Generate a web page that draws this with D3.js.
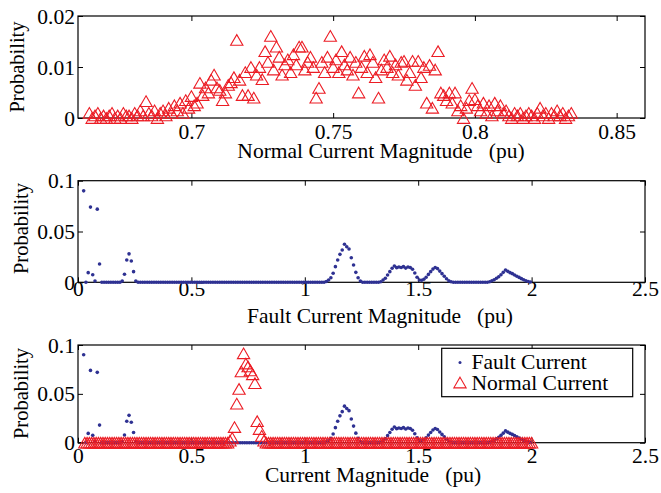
<!DOCTYPE html>
<html>
<head>
<meta charset="utf-8">
<script src="https://cdn.jsdelivr.net/npm/d3@7"></script>
<style>
  html, body { margin: 0; padding: 0; background: #fff; }
  svg { display: block; }
  text { font-family: "Liberation Serif", "Times New Roman", serif; }
</style>
</head>
<body>
<svg id="chart" width="661" height="493"></svg>
<script>
// ---- data ----
// Normal current histogram, fine bins (0.001 pu) starting at 0.664 pu
const normalFineStart = 0.664;
const normalFineStep = 0.001;
const normalFineProb = [
  0.0010, 0, 0.0005, 0.0010, 0, 0.0005, 0, 0.0005, 0.0010, 0,
  0.0005, 0, 0.0010, 0.0005, 0.0005, 0, 0.0010, 0.0005, 0.0015, 0.0005,
  0.0033, 0.0010, 0.0005, 0.0015, 0, 0.0010, 0.0015, 0.0005, 0.0020, 0.0010,
  0.0025, 0.0015, 0.0030, 0.0010, 0.0035, 0.0020, 0.0043, 0.0025, 0.0030, 0.0069,
  0.0045, 0.0060, 0.0050, 0.0075, 0.0085, 0.0060, 0.0055, 0.0035, 0.0050, 0.0065,
  0.0070, 0.0080, 0.0153, 0.0075, 0.0045, 0.0090, 0.0045, 0.0100, 0.0040, 0.0085,
  0.0100, 0.0076, 0.0131, 0.0110, 0.0161, 0.0095, 0.0140, 0.0120, 0.0085, 0.0105,
  0.0115, 0.0090, 0.0125, 0.0105, 0.0140, 0.0140, 0.0095, 0.0110, 0.0120, 0.0100,
  0.0040, 0.0059, 0.0110, 0.0090, 0.0120, 0.0161, 0.0100, 0.0115, 0.0090, 0.0131,
  0.0105, 0.0095, 0.0120, 0.0085, 0.0110, 0.0050, 0.0100, 0.0122, 0.0090, 0.0125,
  0.0110, 0.0080, 0.0040, 0.0095, 0.0115, 0.0100, 0.0122, 0.0090, 0.0105, 0.0085,
  0.0110, 0.0112, 0.0075, 0.0090, 0.0112, 0.0065, 0.0112, 0.0080, 0.0100, 0.0030,
  0.0104, 0.0020, 0.0095, 0.0131, 0.0050, 0.0045,
  0.0035, 0.0050, 0.0030, 0.0050, 0.0015, 0.0025, 0, 0.0020, 0.0035, 0.0059,
  0.0037, 0.0025, 0.0015, 0.0030, 0.0010, 0.0025, 0.0005, 0.0030, 0.0015, 0.0025,
  0.0010, 0.0015, 0.0005, 0, 0.0010, 0.0005, 0.0010, 0, 0.0005, 0.0010,
  0.0005, 0, 0.0010, 0.0020, 0.0005, 0.0010, 0, 0.0010, 0.0005, 0.0015,
  0.0005, 0.0010, 0, 0.0005, 0.0010
];

// Coarse bins (0.01 pu) used for the fault current and the combined plot
const coarseStep = 0.01;
const faultStart = 0.025;
const faultProb = [
  0.0900, 0, 0.0095, 0.0740, 0.0075, 0.0013, 0.0720, 0.0180, 0, 0,
  0, 0, 0, 0, 0, 0, 0, 0.0013, 0.0079, 0.0220,
  0.0280, 0.0210, 0.0105, 0.0013, 0, 0, 0, 0, 0, 0,
  0, 0, 0, 0, 0, 0, 0, 0, 0, 0,
  0, 0, 0, 0, 0, 0, 0, 0, 0, 0,
  0, 0, 0, 0, 0, 0, 0, 0, 0, 0,
  0, 0, 0, 0, 0, 0, 0, 0, 0, 0,
  0, 0, 0, 0, 0, 0, 0, 0, 0, 0,
  0, 0, 0, 0, 0, 0, 0, 0, 0, 0,
  0, 0, 0, 0, 0, 0, 0, 0, 0, 0,
  0, 0, 0, 0, 0, 0, 0, 0.0008, 0.0023, 0.0045,
  0.0089, 0.0154, 0.0220, 0.0275, 0.0318, 0.0374, 0.0350, 0.0328, 0.0242, 0.0170,
  0.0098, 0.0045, 0.0013, 0, 0, 0, 0, 0, 0, 0,
  0, 0.0005, 0.0023, 0.0040, 0.0072, 0.0105, 0.0138, 0.0160, 0.0144, 0.0150,
  0.0146, 0.0154, 0.0140, 0.0150, 0.0146, 0.0128, 0.0092, 0.0050, 0.0022, 0.0020,
  0.0030, 0.0050, 0.0078, 0.0105, 0.0130, 0.0146, 0.0135, 0.0110, 0.0085, 0.0060,
  0.0035, 0.0015, 0.0005, 0, 0, 0, 0, 0, 0, 0,
  0, 0, 0, 0, 0, 0, 0, 0, 0, 0.0005,
  0.0015, 0.0025, 0.0040, 0.0055, 0.0075, 0.0098, 0.0121, 0.0108, 0.0095, 0.0085,
  0.0072, 0.0060, 0.0048, 0.0036, 0.0025, 0.0015, 0.0008, 0.0003
];

const normalCoarseStart = 0.03;
const normalCoarseProb = [
  0, 0, 0, 0, 0, 0, 0, 0, 0, 0,
  0, 0, 0, 0, 0, 0, 0, 0, 0, 0,
  0, 0, 0, 0, 0, 0, 0, 0, 0, 0,
  0, 0, 0, 0, 0, 0, 0, 0, 0, 0,
  0, 0, 0, 0, 0, 0, 0, 0, 0, 0,
  0, 0, 0, 0, 0, 0, 0, 0, 0, 0,
  0, 0, 0, 0, 0.0020, 0.0050, 0.0160, 0.0400, 0.0550, 0.0730,
  0.0915, 0.0810, 0.0780, 0.0740, 0.0700, 0.0610, 0.0220, 0.0140, 0.0070, 0.0020,
  0, 0, 0, 0, 0, 0, 0, 0, 0, 0,
  0, 0, 0, 0, 0, 0, 0, 0, 0, 0,
  0, 0, 0, 0, 0, 0, 0, 0, 0, 0,
  0, 0, 0, 0, 0, 0, 0, 0, 0, 0,
  0, 0, 0, 0, 0, 0, 0, 0, 0, 0,
  0, 0, 0, 0, 0, 0, 0, 0, 0, 0,
  0, 0, 0, 0, 0, 0, 0, 0, 0, 0,
  0, 0, 0, 0, 0, 0, 0, 0, 0, 0,
  0, 0, 0, 0, 0, 0, 0, 0, 0, 0,
  0, 0, 0, 0, 0, 0, 0, 0, 0, 0,
  0, 0, 0, 0, 0, 0, 0, 0, 0, 0,
  0, 0, 0, 0, 0, 0, 0, 0
];

// Tick values and labels
const xTicksNormal = [0.7, 0.75, 0.8, 0.85];
const xTickLabelsNormal = ["0.7", "0.75", "0.8", "0.85"];
const yTicksNormal = [0, 0.01, 0.02];
const yTickLabelsNormal = ["0", "0.01", "0.02"];
const xTicksWide = [0, 0.5, 1, 1.5, 2, 2.5];
const xTickLabelsWide = ["0", "0.5", "1", "1.5", "2", "2.5"];
const yTicksWide = [0, 0.05, 0.1];
const yTickLabelsWide = ["0", "0.05", "0.1"];

const xTitles = [
  "Normal Current Magnitude   (pu)",
  "Fault Current Magnitude   (pu)",
  "Current Magnitude   (pu)"
];
const yTitle = "Probability";
const legendLabels = ["Fault Current", "Normal Current"];

// ---- build point lists ----
const fineNormal = normalFineProb.map((p, i) => ({ x: normalFineStart + i * normalFineStep, y: p }));
const faultPts = faultProb.map((p, i) => ({ x: faultStart + i * coarseStep, y: p }));
const coarseNormal = normalCoarseProb.map((p, i) => ({ x: normalCoarseStart + i * coarseStep, y: p }));

// ---- drawing ----
const RED = "#ec1c24";
const BLUE = "#2e3192";
const FS = 20.5;          // font size
const SX = 1.05;          // horizontal text stretch
const svg = d3.select("#chart");
const left = 78, right = 645;

// Hollow triangle marker centred on its bounding box
const triSide = 12.3;
const triangle = {
  draw(ctx) {
    const h = triSide * Math.sqrt(3) / 2;
    ctx.moveTo(0, -h / 2);
    ctx.lineTo(triSide / 2, h / 2);
    ctx.lineTo(-triSide / 2, h / 2);
    ctx.closePath();
  }
};
const triPath = d3.symbol().type(triangle)();

function styleText(sel) {
  sel.attr("font-family", "'Liberation Serif', 'Times New Roman', serif")
     .attr("font-size", FS)
     .attr("fill", "#000");
}

function panel(cfg) {
  const g = svg.append("g");
  const x = d3.scaleLinear().domain(cfg.xDomain).range([left, right]);
  const y = d3.scaleLinear().domain(cfg.yDomain).range([cfg.bottom, cfg.top]);

  // ticks (inside) on all four sides
  const tickFmt = (labels, vals) => (d) => labels[vals.indexOf(d)];
  const bottomAxis = g.append("g").attr("transform", `translate(0,${cfg.bottom})`)
    .call(d3.axisBottom(x).tickValues(cfg.xTicks).tickSize(-5)
      .tickFormat(tickFmt(cfg.xLabels, cfg.xTicks)));
  const topAxis = g.append("g").attr("transform", `translate(0,${cfg.top})`)
    .call(d3.axisTop(x).tickValues(cfg.xTicks).tickSize(-5).tickFormat(""));
  const leftAxis = g.append("g").attr("transform", `translate(${left},0)`)
    .call(d3.axisLeft(y).tickValues(cfg.yTicks).tickSize(-5)
      .tickFormat(tickFmt(cfg.yLabels, cfg.yTicks)));
  const rightAxis = g.append("g").attr("transform", `translate(${right},0)`)
    .call(d3.axisRight(y).tickValues(cfg.yTicks).tickSize(-5).tickFormat(""));

  [bottomAxis, topAxis, leftAxis, rightAxis].forEach(a => {
    a.select(".domain").remove();
    a.selectAll("line").attr("stroke", "#000").attr("stroke-width", 1);
    a.attr("font-size", null).attr("font-family", null);
  });
  bottomAxis.selectAll("text")
    .attr("y", null).attr("dy", null)
    .attr("transform", `translate(0,${cfg.xLabelOffset}) scale(${SX},1)`)
    .call(styleText);
  leftAxis.selectAll("text")
    .attr("x", null).attr("dy", null)
    .attr("transform", `translate(-3,7) scale(${SX},1)`)
    .call(styleText);

  // frame
  g.append("rect")
    .attr("x", left).attr("y", cfg.top)
    .attr("width", right - left).attr("height", cfg.bottom - cfg.top)
    .attr("fill", "none").attr("stroke", "#000").attr("stroke-width", 1.2);

  // axis titles
  g.append("text")
    .attr("transform", `translate(${cfg.titleX},${cfg.titleY}) scale(${SX},1)`)
    .attr("text-anchor", "middle")
    .style("white-space", "pre")
    .text(cfg.title)
    .call(styleText);
  g.append("text")
    .attr("transform", `translate(${cfg.probX},${cfg.probY}) rotate(-90)`)
    .attr("text-anchor", "middle")
    .text(yTitle)
    .call(styleText);

  return { g, x, y };
}

function dots(p, data) {
  p.g.append("g").selectAll("circle").data(data).join("circle")
    .attr("cx", d => p.x(d.x)).attr("cy", d => p.y(d.y))
    .attr("r", 1.8).attr("fill", BLUE);
}
function triangles(p, data) {
  p.g.append("g").selectAll("path").data(data).join("path")
    .attr("d", triPath)
    .attr("transform", d => `translate(${p.x(d.x)},${p.y(d.y)})`)
    .attr("fill", "none").attr("stroke", RED).attr("stroke-width", 1.1);
}

// Panel 1: normal current
const p1 = panel({
  top: 16, bottom: 118, xDomain: [0.66, 0.86], yDomain: [0, 0.02],
  xTicks: xTicksNormal, xLabels: xTickLabelsNormal,
  yTicks: yTicksNormal, yLabels: yTickLabelsNormal,
  xLabelOffset: 21, title: xTitles[0], titleX: 381, titleY: 158,
  probX: 24, probY: 67
});
triangles(p1, fineNormal);

// Panel 2: fault current
const p2 = panel({
  top: 180.7, bottom: 282.3, xDomain: [0, 2.5], yDomain: [0, 0.1],
  xTicks: xTicksWide, xLabels: xTickLabelsWide,
  yTicks: yTicksWide, yLabels: yTickLabelsWide,
  xLabelOffset: 13.5, title: xTitles[1], titleX: 380, titleY: 323,
  probX: 28, probY: 228.5
});
dots(p2, faultPts);

// Panel 3: both
const p3 = panel({
  top: 345, bottom: 442.7, xDomain: [0, 2.5], yDomain: [0, 0.1],
  xTicks: xTicksWide, xLabels: xTickLabelsWide,
  yTicks: yTicksWide, yLabels: yTickLabelsWide,
  xLabelOffset: 20.5, title: xTitles[2], titleX: 373, titleY: 481.5,
  probX: 28, probY: 393.5
});
dots(p3, faultPts);
triangles(p3, coarseNormal);

// Legend
const lg = svg.append("g");
lg.append("rect")
  .attr("x", 441.7).attr("y", 348.3).attr("width", 191).attr("height", 48.4)
  .attr("fill", "#fff").attr("stroke", "#000").attr("stroke-width", 1.2);
lg.append("circle").attr("cx", 460).attr("cy", 362.5).attr("r", 1.5).attr("fill", BLUE);
lg.append("path").attr("d", triPath).attr("transform", "translate(460,382.5)")
  .attr("fill", "none").attr("stroke", RED).attr("stroke-width", 1.1);
legendLabels.forEach((t, i) => {
  lg.append("text")
    .attr("transform", `translate(471.5,${369 + i * 20.5}) scale(${SX},1)`)
    .text(t)
    .call(styleText);
});
</script>
</body>
</html>
